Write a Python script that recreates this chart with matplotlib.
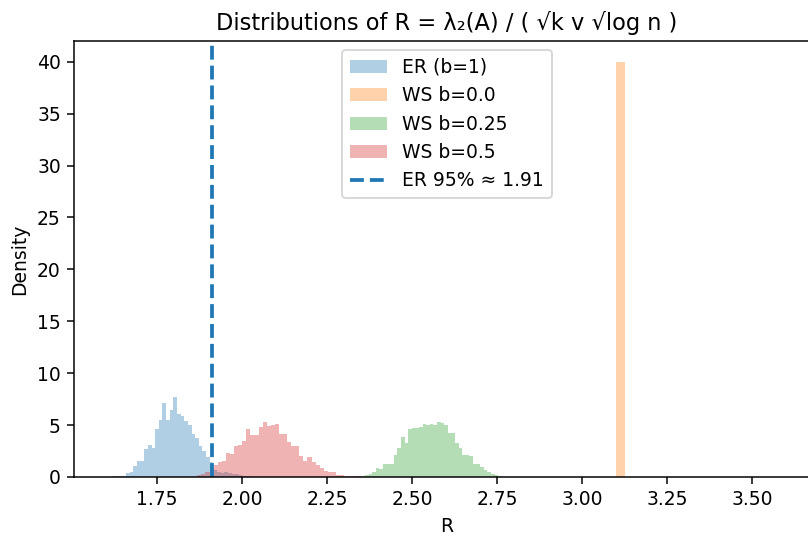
import numpy as np
import matplotlib
matplotlib.use("Agg")
import matplotlib.pyplot as plt

# bin ranges (40 bins each) and densities
er_lo, er_hi = 1.605, 2.033
er_dens = [0.03, 0.05, 0.1, 0.05, 0.1, 0.4, 0.5, 1.1, 1.5,
           1.5, 2.7, 3.1, 2.8, 4.6, 5.5, 7.1, 5.5, 6.5, 7.7,
           6.1, 5.9, 5.4, 5.0, 4.1, 3.8, 3.0, 2.5, 1.9, 1.4,
           0.7, 0.5, 0.4, 0.5, 0.4, 0.3, 0.3, 0.2, 0.1, 0.05, 0.03]

ws05_lo, ws05_hi = 1.868, 2.348
ws05_dens = [0.2, 0.3, 0.5, 0.8, 1.2, 1.4, 1.5, 2.3, 2.2, 3.0,
             3.1, 3.5, 4.6, 4.0, 4.0, 4.8, 5.3, 4.9, 5.0, 5.1,
             4.1, 4.1, 3.4, 3.0, 3.0, 2.0, 1.5, 1.9, 1.4, 1.2,
             0.9, 0.6, 0.5, 0.5, 0.2, 0.15, 0.1, 0.1, 0.1, 0.1]

ws025_lo, ws025_hi = 2.340, 2.764
ws025_dens = [0.05, 0.1, 0.2, 0.3, 0.5, 0.9, 0.8, 1.3, 1.3, 1.3,
              2.1, 2.8, 3.9, 3.3, 4.6, 4.7, 4.7, 4.8, 5.1, 5.0,
              5.1, 5.0, 5.3, 5.2, 5.0, 4.2, 4.2, 3.3, 2.8, 2.1,
              2.1, 2.0, 1.3, 1.3, 1.0, 0.7, 0.5, 0.3, 0.2, 0.1]

# b=0 ring lattice gives the same R every time
ws0_values = [3.10]
er_q95 = 1.91

fig = plt.figure(figsize=(808 / 135, 539 / 135), dpi=135)
ax = fig.add_axes([74 / 808, 62 / 539, 746 / 808, 436 / 539])

def draw(lo, hi, dens, color, label):
    edges = np.linspace(lo, hi, len(dens) + 1)
    ax.hist(edges[:-1], bins=edges, weights=dens, alpha=0.35, color=color, label=label)

draw(er_lo, er_hi, er_dens, "C0", "ER (b=1)")
ax.hist(ws0_values, bins=40, density=True, alpha=0.35, color="C1", label="WS b=0.0")
draw(ws025_lo, ws025_hi, ws025_dens, "C2", "WS b=0.25")
draw(ws05_lo, ws05_hi, ws05_dens, "C3", "WS b=0.5")
ax.axvline(er_q95, color="C0", linestyle="--", linewidth=2, label=f"ER 95% ≈ {er_q95:.2f}")

ax.set_title("Distributions of R = λ₂(A) / ( √k v √log n )")
ax.set_xlabel("R")
ax.set_ylabel("Density")
ax.legend(loc="upper center")

fig.savefig("out.png", dpi=135)
